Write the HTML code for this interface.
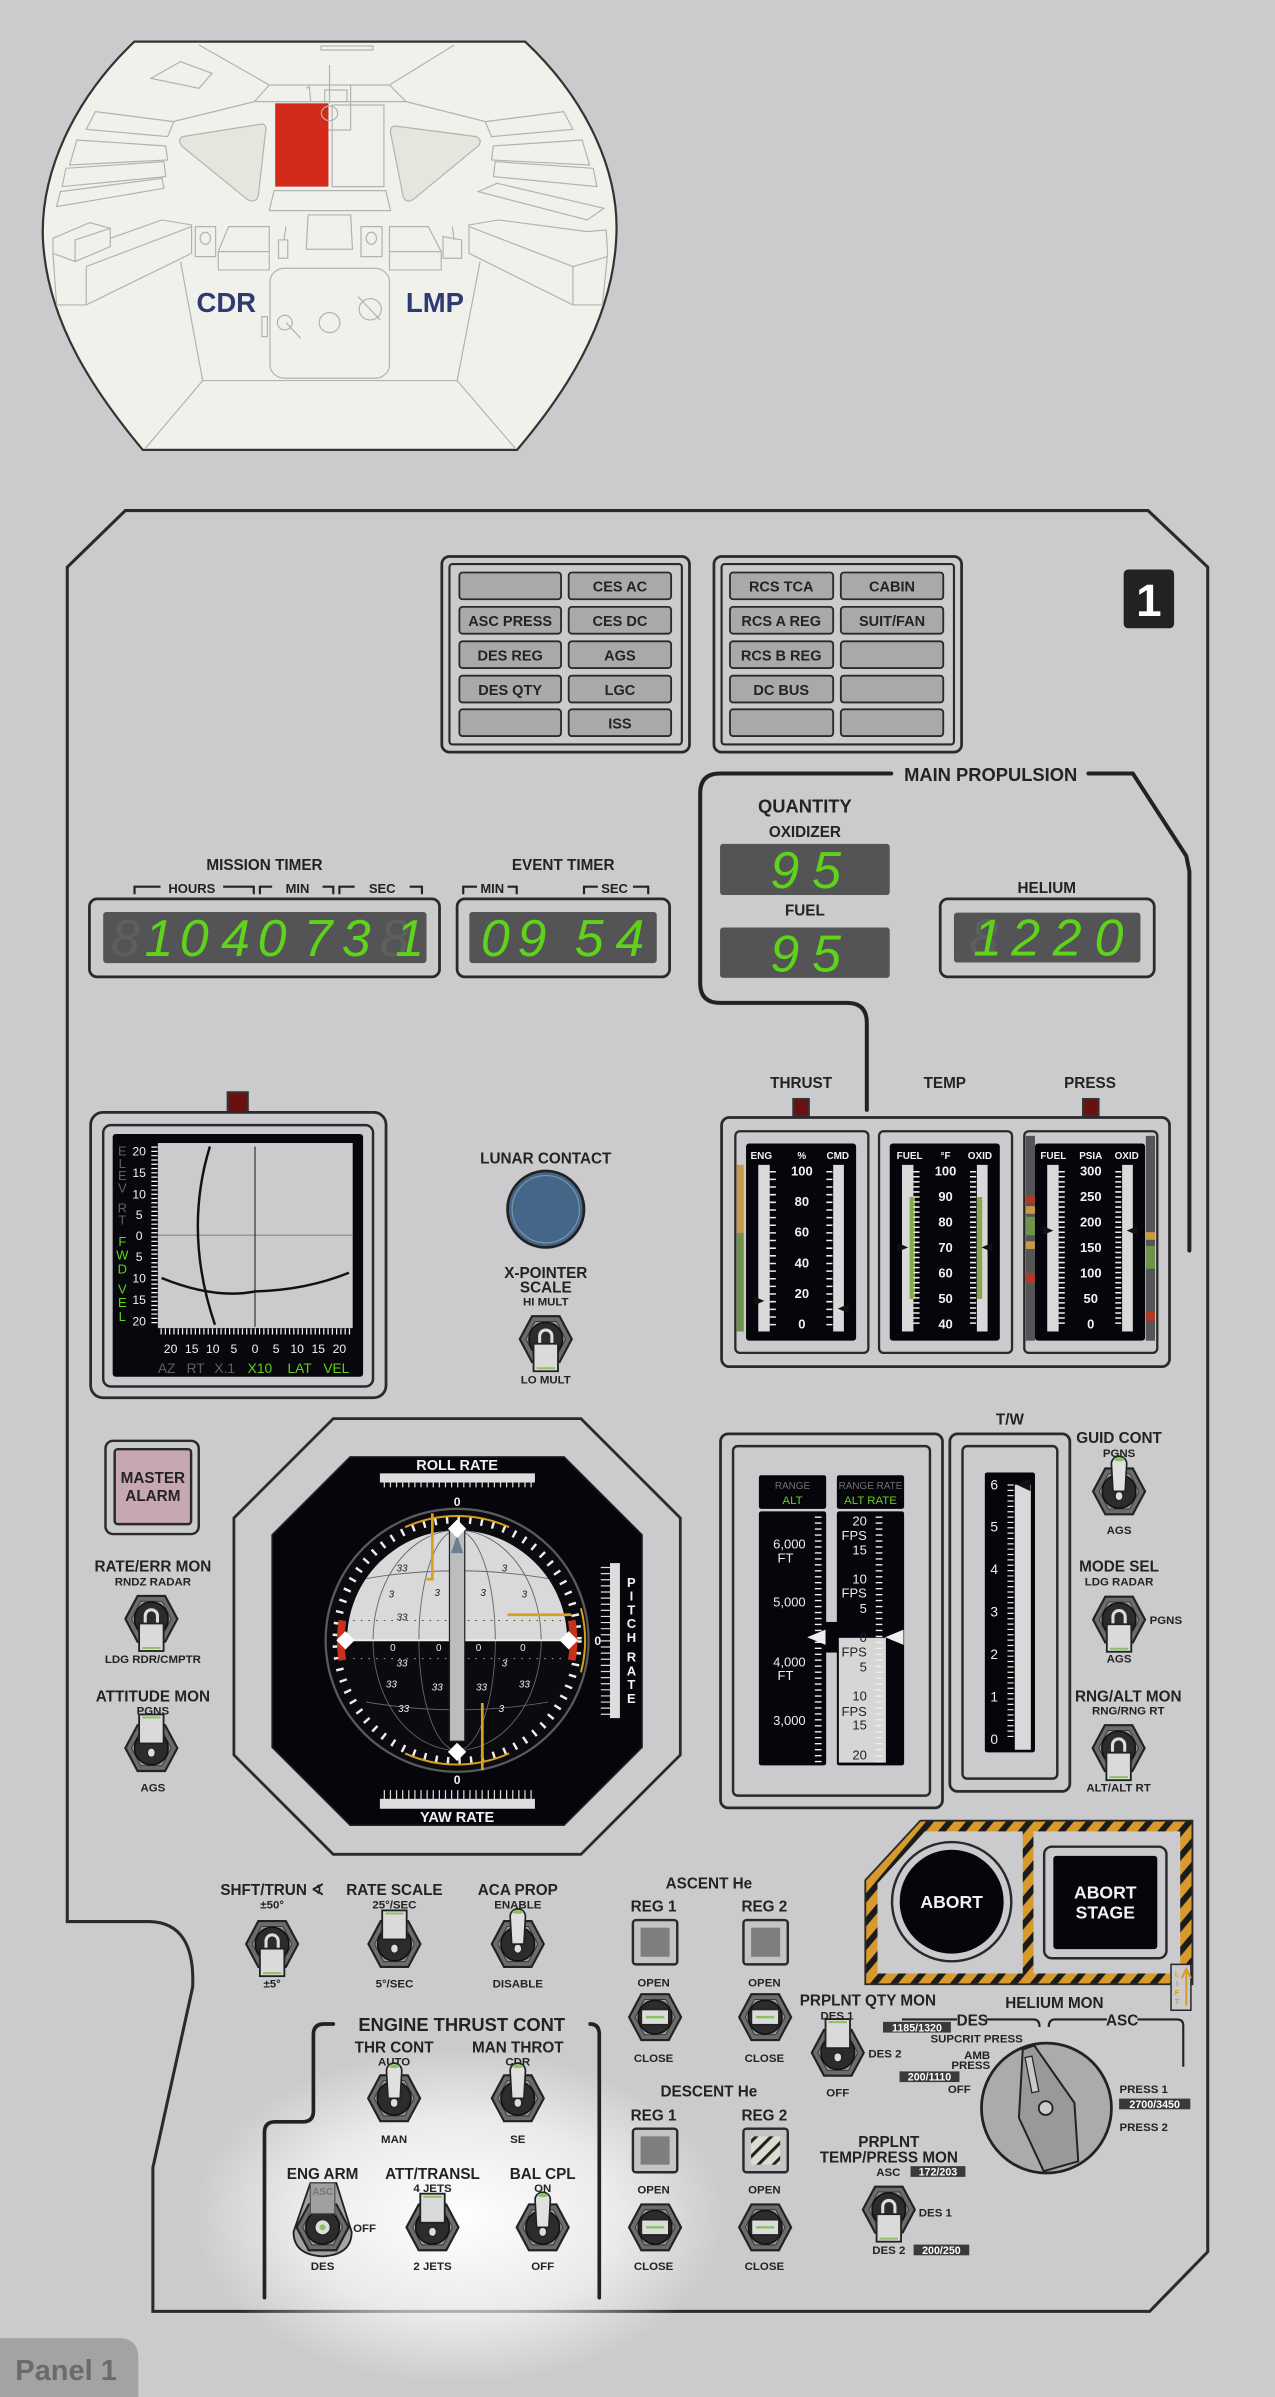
<!DOCTYPE html>
<html><head><meta charset="utf-8"><style>
html,body{margin:0;padding:0;background:#cbcbcd;}
svg{display:block}
text{font-family:"Liberation Sans",sans-serif;font-weight:bold;fill:#232325;text-anchor:middle}
.L{font-size:10px}
.S{font-size:7.5px}
.W{fill:#f2f2f2}
.B{font-size:9.5px}
.dg{font-weight:normal;font-style:italic;fill:#5fd21a;font-size:34px}
.dd{font-weight:normal;font-style:italic;fill:#5d615d;font-size:34px}
.bx{font-size:7px;fill:#fff}
</style></head><body>
<svg width="1275" height="2397" viewBox="0 0 834 1568" preserveAspectRatio="none" xmlns="http://www.w3.org/2000/svg">
<defs>
<radialGradient id="glow" cx="0.5" cy="0.5" r="0.5">
<stop offset="0" stop-color="#ffffff" stop-opacity="1"/>
<stop offset="0.6" stop-color="#ffffff" stop-opacity="0.6"/>
<stop offset="1" stop-color="#ffffff" stop-opacity="0"/>
</radialGradient>
<symbol id="nut" overflow="visible">
<polygon points="-17,0 -9,-15 9,-15 17,0 9,15 -9,15" fill="#6c6c6e" stroke="#222" stroke-width="1.4"/>
<polygon points="-13,0 -7,-11.5 7,-11.5 13,0 7,11.5 -7,11.5" fill="#9a9a9c" stroke="#333" stroke-width="0.6"/>
<circle r="11" fill="#2c2c2e" stroke="#111" stroke-width="1"/>
</symbol>
<symbol id="ball" overflow="visible">
<rect x="-2.5" y="0" width="5" height="6" rx="2.5" fill="#ddd" stroke="#222" stroke-width="0.8"/>
<path d="M-4,0 L-5,-18 A5,5 0 0 1 5,-18 L4,0 Z" fill="#e0e0e0" stroke="#222" stroke-width="1.1"/>
<ellipse cx="0" cy="-21" rx="3.5" ry="1.3" fill="#8cc063"/>
</symbol>
<symbol id="pup" overflow="visible">
<rect x="-2.5" y="0" width="5" height="6" rx="2.5" fill="#ddd" stroke="#222" stroke-width="0.8"/>
<rect x="-8" y="-22" width="16" height="19" fill="#dadada" stroke="#222" stroke-width="1.2"/>
<line x1="-6" y1="-20" x2="6" y2="-20" stroke="#8cc063" stroke-width="1.3"/>
</symbol>
<symbol id="pdn" overflow="visible">
<path d="M-4,4 V-2 A4,4 0 0 1 4,-2 V4" fill="#2c2c2e" stroke="#ddd" stroke-width="2"/>
<rect x="-8" y="3" width="16" height="18" fill="#dadada" stroke="#222" stroke-width="1.2"/>
<line x1="-6" y1="19" x2="6" y2="19" stroke="#8cc063" stroke-width="1.3"/>
</symbol>
<symbol id="hz" overflow="visible">
<rect x="-9" y="-5" width="18" height="10" fill="#dcdcdc" stroke="#222" stroke-width="1.1"/>
<line x1="-6" y1="0" x2="6" y2="0" stroke="#8cc063" stroke-width="1.6"/>
</symbol>
<clipPath id="ballclip"><circle cx="299" cy="1073" r="72"/></clipPath>
<pattern id="haz" width="10" height="10" patternUnits="userSpaceOnUse" patternTransform="rotate(40)">
<rect width="10" height="10" fill="#d89a2c"/><rect width="4" height="10" fill="#1b1b1b"/>
</pattern>
<pattern id="haz2" width="7" height="7" patternUnits="userSpaceOnUse" patternTransform="rotate(45)">
<rect width="7" height="7" fill="#dcdccf"/><rect width="2" height="7" fill="#222"/>
</pattern>
</defs>

<rect width="834" height="1568" fill="#cbcbcd"/>

<!-- cockpit -->
<g transform="translate(26.16,26.16) scale(0.2419,0.218)">
<path d="M255,5 H1312 C1480,180 1570,400 1558,600 C1545,850 1420,1060 1290,1230 H278 C150,1060 20,850 8,600 C0,400 90,180 255,5 Z" fill="#f1f1ec" stroke="#333" stroke-width="2.2" vector-effect="non-scaling-stroke"/>
<g fill="none" stroke="#b2b2b2" stroke-width="1.2" vector-effect="non-scaling-stroke">
<path vector-effect="non-scaling-stroke" d="M430,15 L620,135 H945 L1120,15 M620,135 L580,185 H990 L945,135 M580,185 L360,245 M990,185 L1205,245"/>
<path vector-effect="non-scaling-stroke" d="M440,1022 H1128 M440,1022 L285,1225 M1128,1022 L1285,1225 M380,665 L440,1022 M1190,665 L1128,1022"/>
<rect vector-effect="non-scaling-stroke" x="760" y="18" width="140" height="12"/>
<path vector-effect="non-scaling-stroke" d="M300,115 L380,65 L465,100 L430,145 Z"/>
<path vector-effect="non-scaling-stroke" d="M150,215 L362,245 L345,290 L125,268 Z M100,300 L340,318 L345,360 L80,375 Z M70,385 L335,365 L340,410 L60,440 Z M55,455 L330,415 L335,445 L45,500 Z"/>
<path vector-effect="non-scaling-stroke" d="M1416,215 L1204,245 L1221,290 L1441,268 Z M1466,300 L1226,318 L1221,360 L1486,375 Z M1496,385 L1231,365 L1226,410 L1506,440 Z M1185,455 L1236,430 L1525,505 L1480,540 Z"/>
<path vector-effect="non-scaling-stroke" d="M35,595 L135,548 L190,565 V620 L95,665 L35,640 Z M95,665 V600 L190,565 M190,595 L330,540 L410,555 V640 L125,795 H45 L35,640 M125,680 V795 M125,680 L410,560"/>
<path vector-effect="non-scaling-stroke" d="M1531,570 L1480,575 L1240,540 L1160,555 V640 L1441,795 H1521 L1535,640 Z M1441,680 V795 M1441,680 L1160,560 M1441,680 L1535,650"/>
<rect vector-effect="non-scaling-stroke" x="420" y="560" width="55" height="90"/>
<rect vector-effect="non-scaling-stroke" x="868" y="560" width="57" height="90"/>
<path vector-effect="non-scaling-stroke" d="M510,560 H620 V690 H482 V635 Z M482,635 H620 M945,560 H1050 L1085,635 V690 H945 Z M945,635 H1085"/>
<path vector-effect="non-scaling-stroke" d="M725,525 H840 L845,628 H720 Z M633,452 H935 L948,512 H620 Z"/>
<rect vector-effect="non-scaling-stroke" x="622" y="685" width="323" height="330" rx="40"/>
<path vector-effect="non-scaling-stroke" d="M645,600 V655 H670 V600 Z M665,560 L660,600 M1090,590 V655 H1140 V600 Z M1115,560 L1120,600"/>
<path vector-effect="non-scaling-stroke" d="M783,75 V190 M730,190 V270 H840 V135 M700,220 H730 V255 H700 Z M770,150 H830 V185 H770 Z M720,145 L728,140 L732,185"/>
<rect vector-effect="non-scaling-stroke" x="600" y="830" width="15" height="60"/>
<path vector-effect="non-scaling-stroke" d="M665,848 L705,895 M860,770 L920,840"/>
</g>
<path d="M385,290 L600,252 Q615,255 610,275 L590,470 Q580,492 560,478 L385,320 Q370,300 385,290 Z" fill="#e6e6df" stroke="#b2b2b2" stroke-width="1.2" vector-effect="non-scaling-stroke"/>
<path d="M960,258 L1180,290 Q1198,300 1185,318 L1010,478 Q990,492 982,470 L948,278 Q946,260 960,258 Z" fill="#e6e6df" stroke="#b2b2b2" stroke-width="1.2" vector-effect="non-scaling-stroke"/>
<rect x="636" y="190" width="144" height="250" fill="#d42a1a"/>
<rect x="790" y="195" width="140" height="245" fill="none" stroke="#b2b2b2" stroke-width="1.2" vector-effect="non-scaling-stroke"/>
<g fill="none" stroke="#b2b2b2" stroke-width="1.2">
<ellipse vector-effect="non-scaling-stroke" cx="783" cy="220" rx="22" ry="22"/>
<ellipse vector-effect="non-scaling-stroke" cx="783" cy="848" rx="28" ry="30"/>
<ellipse vector-effect="non-scaling-stroke" cx="893" cy="808" rx="30" ry="32"/>
<ellipse vector-effect="non-scaling-stroke" cx="662" cy="848" rx="20" ry="22"/>
<ellipse vector-effect="non-scaling-stroke" cx="447" cy="595" rx="14" ry="18"/>
<ellipse vector-effect="non-scaling-stroke" cx="896" cy="595" rx="14" ry="18"/>
</g>
</g>
<text x="148" y="204" style="font-size:18px;fill:#2e3a72">CDR</text>
<text x="284.5" y="204" style="font-size:18px;fill:#2e3a72">LMP</text>

<!-- panel outline -->
<path d="M82,334 H751 L790,371 V1473 L752,1512 H100 V1418 L126,1300 Q128,1258 98,1257 H44 V371 Z" fill="#cbcbcd" stroke="#2a2a2c" stroke-width="2"/>
<ellipse cx="300" cy="1450" rx="175" ry="110" fill="url(#glow)"/>

<!-- panel number -->
<rect x="735" y="372.5" width="33" height="38.5" rx="3" fill="#222"/>
<text x="751.5" y="403" style="font-size:30px;fill:#fff">1</text>

<!-- caution/warning lights -->
<g fill="none" stroke="#2a2a2c">
<rect x="289" y="364" width="162" height="128" rx="5" stroke-width="1.8"/>
<rect x="294" y="369" width="152" height="118" rx="2" stroke-width="1.4"/>
<rect x="467" y="364" width="162" height="128" rx="5" stroke-width="1.8"/>
<rect x="472" y="369" width="152" height="118" rx="2" stroke-width="1.4"/>
</g>
<g fill="#a9a9ab" stroke="#2a2a2c" stroke-width="1.2">
<rect x="300.5" y="374.5" width="66.5" height="17.5" rx="2"/><rect x="372" y="374.5" width="67" height="17.5" rx="2"/>
<rect x="300.5" y="397" width="66.5" height="17.5" rx="2"/><rect x="372" y="397" width="67" height="17.5" rx="2"/>
<rect x="300.5" y="419.5" width="66.5" height="17.5" rx="2"/><rect x="372" y="419.5" width="67" height="17.5" rx="2"/>
<rect x="300.5" y="442" width="66.5" height="17.5" rx="2"/><rect x="372" y="442" width="67" height="17.5" rx="2"/>
<rect x="300.5" y="464" width="66.5" height="17.5" rx="2"/><rect x="372" y="464" width="67" height="17.5" rx="2"/>
<rect x="477.5" y="374.5" width="67.5" height="17.5" rx="2"/><rect x="550" y="374.5" width="67" height="17.5" rx="2"/>
<rect x="477.5" y="397" width="67.5" height="17.5" rx="2"/><rect x="550" y="397" width="67" height="17.5" rx="2"/>
<rect x="477.5" y="419.5" width="67.5" height="17.5" rx="2"/><rect x="550" y="419.5" width="67" height="17.5" rx="2"/>
<rect x="477.5" y="442" width="67.5" height="17.5" rx="2"/><rect x="550" y="442" width="67" height="17.5" rx="2"/>
<rect x="477.5" y="464" width="67.5" height="17.5" rx="2"/><rect x="550" y="464" width="67" height="17.5" rx="2"/>
</g>
<g class="B">
<text class="B" x="405.5" y="387">CES AC</text>
<text class="B" x="333.7" y="409.5">ASC PRESS</text><text class="B" x="405.5" y="409.5">CES DC</text>
<text class="B" x="333.7" y="432">DES REG</text><text class="B" x="405.5" y="432">AGS</text>
<text class="B" x="333.7" y="454.5">DES QTY</text><text class="B" x="405.5" y="454.5">LGC</text>
<text class="B" x="405.5" y="476.5">ISS</text>
<text class="B" x="511" y="387">RCS TCA</text><text class="B" x="583.5" y="387">CABIN</text>
<text class="B" x="511" y="409.5">RCS A REG</text><text class="B" x="583.5" y="409.5">SUIT/FAN</text>
<text class="B" x="511" y="432">RCS B REG</text>
<text class="B" x="511" y="454.5">DC BUS</text>
</g>

<!-- main propulsion -->
<path d="M583,506 H471 Q458,506 458,519 V643 Q458,656 471,656 H554 Q567,656 567,669 V726" fill="none" stroke="#222" stroke-width="2.6" stroke-linecap="round"/>
<path d="M712,506 H741 L776,560 L778,570 V818" fill="none" stroke="#222" stroke-width="2.6" stroke-linecap="round"/>
<text x="648" y="511" style="font-size:12px">MAIN PROPULSION</text>
<text x="526.5" y="531.5" style="font-size:12px">QUANTITY</text>
<text x="526.5" y="547.5" class="L">OXIDIZER</text>
<rect x="471" y="552" width="111" height="33.5" rx="2" fill="#545457"/>
<text x="526.5" y="599" class="L">FUEL</text>
<rect x="471" y="606.7" width="111" height="33" rx="2" fill="#545457"/>
<text class="dg" x="513.4" y="581">9</text><text class="dg" x="540.7" y="581">5</text>
<text class="dg" x="513.4" y="635.5">9</text><text class="dg" x="540.7" y="635.5">5</text>

<!-- timers -->
<text x="173" y="569" class="L">MISSION TIMER</text>
<path d="M88,585 V580 H105 M146,580 H166 V585 M170,585 V580 H178 M211,580 H218 V585 M222,585 V580 H232 M268,580 H276 V585 M303,585 V580 H312 M332,580 H338 V585 M382,585 V580 H391 M414,580 H424 V585" fill="none" stroke="#222" stroke-width="1.4"/>
<text x="125.5" y="584" class="S" style="font-size:8.5px">HOURS</text>
<text x="194.6" y="584" class="S" style="font-size:8.5px">MIN</text>
<text x="250" y="584" class="S" style="font-size:8.5px">SEC</text>
<text x="368.4" y="569" class="L">EVENT TIMER</text>
<text x="322" y="584" class="S" style="font-size:8.5px">MIN</text>
<text x="402" y="584" class="S" style="font-size:8.5px">SEC</text>
<text x="684.7" y="584" class="L">HELIUM</text>
<g fill="none" stroke="#2a2a2c" stroke-width="1.8">
<rect x="58.5" y="588" width="229" height="51" rx="5"/>
<rect x="299" y="588" width="139" height="51" rx="5"/>
<rect x="615" y="588" width="140" height="51" rx="5"/>
</g>
<rect x="67.5" y="596.6" width="211.5" height="33.4" rx="2" fill="#545457"/>
<rect x="307" y="596.6" width="122.6" height="33.4" rx="2" fill="#545457"/>
<rect x="624" y="597" width="122" height="32.6" rx="2" fill="#545457"/>
<text class="dd" x="82" y="625.5">8</text>
<text class="dg" x="104" y="625.5">1</text>
<text class="dg" x="127" y="625.5">0</text>
<text class="dg" x="154" y="625.5">4</text>
<text class="dg" x="178" y="625.5">0</text>
<text class="dg" x="208" y="625.5">7</text>
<text class="dg" x="233" y="625.5">3</text>
<text class="dd" x="258" y="625.5">8</text>
<text class="dg" x="268" y="625.5">1</text>
<text class="dg" x="324" y="625.5">0</text>
<text class="dg" x="348" y="625.5">9</text>
<text class="dg" x="385.4" y="625.5">5</text>
<text class="dg" x="412" y="625.5">4</text>
<text class="dd" x="643.6" y="625">8</text><text class="dg" x="646" y="625">1</text>
<text class="dg" x="670.9" y="625">2</text>
<text class="dg" x="698.1" y="625">2</text>
<text class="dg" x="725.4" y="625">0</text>

<!-- x-y display -->
<rect x="149" y="714.6" width="13" height="13.2" fill="#6b0f0f" stroke="#333" stroke-width="1.5"/>
<rect x="59.3" y="727.7" width="193.2" height="186.6" rx="8" fill="#cbcbcd" stroke="#2a2a2c" stroke-width="1.8"/>
<rect x="67.5" y="736" width="176.5" height="171" rx="5" fill="none" stroke="#2a2a2c" stroke-width="1.6"/>
<rect x="73.7" y="741.8" width="163.8" height="158.8" rx="2" fill="#07070d"/>
<rect x="103.3" y="747.7" width="127.4" height="121.1" fill="#cbcbcd"/>
<line x1="103.3" y1="808" x2="230.7" y2="808" stroke="#888" stroke-width="0.7"/>
<line x1="166.8" y1="750" x2="166.8" y2="868" stroke="#222" stroke-width="0.7"/>
<path d="M137.3,750 Q120,806 140.6,866.6" fill="none" stroke="#111" stroke-width="1.6"/>
<path d="M105.7,836 Q140,850 166.8,844.8 Q200,844 228.3,832.6" fill="none" stroke="#111" stroke-width="1.6"/>
<line x1="101" y1="750" x2="101" y2="866" stroke="#fff" stroke-width="4" stroke-dasharray="0.8 2"/>
<line x1="105" y1="871" x2="229" y2="871" stroke="#fff" stroke-width="4" stroke-dasharray="0.8 2"/>
<g>
<text class="W" x="91" y="756" style="font-size:8px;font-weight:normal">20</text>
<text class="W" x="91" y="770" style="font-size:8px;font-weight:normal">15</text>
<text class="W" x="91" y="784" style="font-size:8px;font-weight:normal">10</text>
<text class="W" x="91" y="797.5" style="font-size:8px;font-weight:normal">5</text>
<text class="W" x="91" y="811" style="font-size:8px;font-weight:normal">0</text>
<text class="W" x="91" y="825" style="font-size:8px;font-weight:normal">5</text>
<text class="W" x="91" y="839" style="font-size:8px;font-weight:normal">10</text>
<text class="W" x="91" y="853" style="font-size:8px;font-weight:normal">15</text>
<text class="W" x="91" y="867" style="font-size:8px;font-weight:normal">20</text>
<text class="W" x="111.6" y="885" style="font-size:8px;font-weight:normal">20</text>
<text class="W" x="125.4" y="885" style="font-size:8px;font-weight:normal">15</text>
<text class="W" x="139.2" y="885" style="font-size:8px;font-weight:normal">10</text>
<text class="W" x="153" y="885" style="font-size:8px;font-weight:normal">5</text>
<text class="W" x="166.8" y="885" style="font-size:8px;font-weight:normal">0</text>
<text class="W" x="180.6" y="885" style="font-size:8px;font-weight:normal">5</text>
<text class="W" x="194.4" y="885" style="font-size:8px;font-weight:normal">10</text>
<text class="W" x="208.2" y="885" style="font-size:8px;font-weight:normal">15</text>
<text class="W" x="222" y="885" style="font-size:8px;font-weight:normal">20</text>
</g>
<g>
<text x="80" y="756" style="font-size:8.5px;font-weight:normal;fill:#5e625e">E</text>
<text x="80" y="764" style="font-size:8.5px;font-weight:normal;fill:#5e625e">L</text>
<text x="80" y="772" style="font-size:8.5px;font-weight:normal;fill:#5e625e">E</text>
<text x="80" y="780" style="font-size:8.5px;font-weight:normal;fill:#5e625e">V</text>
<text x="80" y="793" style="font-size:8.5px;font-weight:normal;fill:#5e625e">R</text>
<text x="80" y="801" style="font-size:8.5px;font-weight:normal;fill:#5e625e">T</text>
<text x="80" y="815" style="font-size:8.5px;font-weight:normal;fill:#5fd21a">F</text>
<text x="80" y="824" style="font-size:8.5px;font-weight:normal;fill:#5fd21a">W</text>
<text x="80" y="833" style="font-size:8.5px;font-weight:normal;fill:#5fd21a">D</text>
<text x="80" y="846" style="font-size:8.5px;font-weight:normal;fill:#5fd21a">V</text>
<text x="80" y="855" style="font-size:8.5px;font-weight:normal;fill:#5fd21a">E</text>
<text x="80" y="864" style="font-size:8.5px;font-weight:normal;fill:#5fd21a">L</text>
<text x="109" y="898" style="font-size:9px;font-weight:normal;fill:#5e625e">AZ</text>
<text x="128" y="898" style="font-size:9px;font-weight:normal;fill:#5e625e">RT</text>
<text x="147" y="898" style="font-size:9px;font-weight:normal;fill:#5e625e">X.1</text>
<text x="170" y="898" style="font-size:9px;font-weight:normal;fill:#5fd21a">X10</text>
<text x="196" y="898" style="font-size:9px;font-weight:normal;fill:#5fd21a">LAT</text>
<text x="220" y="898" style="font-size:9px;font-weight:normal;fill:#5fd21a">VEL</text>
</g>

<!-- lunar contact / x-pointer -->
<text x="357" y="761" class="L">LUNAR CONTACT</text>
<circle cx="357" cy="791" r="25" fill="#436689" stroke="#222" stroke-width="1.8"/>
<circle cx="357" cy="791" r="22" fill="none" stroke="#7d93a8" stroke-width="0.8"/>
<text x="357" y="836" class="L">X-POINTER</text>
<text x="357" y="845.5" class="L">SCALE</text>
<text x="357" y="854" class="S">HI MULT</text>
<use href="#nut" x="357" y="876"/><use href="#pdn" x="357" y="876"/>
<text x="357" y="905" class="S">LO MULT</text>

<!-- master alarm -->
<rect x="69" y="942.5" width="61" height="61" rx="5" fill="none" stroke="#2a2a2c" stroke-width="1.6"/>
<rect x="75" y="948" width="50" height="49" rx="2" fill="#c7a8b2" stroke="#2a2a2c" stroke-width="1.6"/>
<text x="100" y="970" class="L">MASTER</text>
<text x="100" y="982" class="L">ALARM</text>

<!-- left toggles -->
<text x="100" y="1028" class="L">RATE/ERR MON</text>
<text x="100" y="1037" class="S">RNDZ RADAR</text>
<use href="#nut" x="99" y="1059"/><use href="#pdn" x="99" y="1059"/>
<text x="100" y="1088" class="S">LDG RDR/CMPTR</text>
<text x="100" y="1113" class="L">ATTITUDE MON</text>
<text x="100" y="1121.5" class="S">PGNS</text>
<use href="#nut" x="99" y="1143.5"/><use href="#pup" x="99" y="1143.5"/>
<text x="100" y="1172" class="S">AGS</text>

<!-- FDAI -->
<polygon points="218,928 380,928 445,993 445,1148 380,1213 218,1213 153,1148 153,993" fill="#cbcbcd" stroke="#2a2a2c" stroke-width="1.8"/>
<polygon points="229,953 369,953 420,1004 420,1143 369,1194 229,1194 178,1143 178,1004" fill="#05050b" stroke="#222" stroke-width="1"/>
<rect x="248.5" y="963.8" width="101.4" height="6" fill="#ddd"/>
<line x1="251" y1="970" x2="348" y2="970" stroke="#ddd" stroke-width="6" stroke-dasharray="0.8 3.2"/>
<text x="299" y="961.5" class="W" style="font-size:9.5px">ROLL RATE</text>
<text x="299" y="985" class="W" style="font-size:8px">0</text>
<rect x="248.5" y="1176.7" width="101.4" height="6.5" fill="#ddd"/>
<line x1="251" y1="1174" x2="348" y2="1174" stroke="#ddd" stroke-width="6" stroke-dasharray="0.8 3.2"/>
<text x="299" y="1192" class="W" style="font-size:9.5px">YAW RATE</text>
<text x="299" y="1167" class="W" style="font-size:8px">0</text>
<rect x="399" y="1022.5" width="6.5" height="101.4" fill="#ddd"/>
<line x1="396" y1="1025" x2="396" y2="1122" stroke="#ddd" stroke-width="6" stroke-dasharray="0.8 3.2"/>
<text x="391" y="1076" class="W" style="font-size:8px">0</text>
<g>
<text class="W" x="413" y="1038" style="font-size:8.5px">P</text>
<text class="W" x="413" y="1047" style="font-size:8.5px">I</text>
<text class="W" x="413" y="1056" style="font-size:8.5px">T</text>
<text class="W" x="413" y="1065" style="font-size:8.5px">C</text>
<text class="W" x="413" y="1074" style="font-size:8.5px">H</text>
<text class="W" x="413" y="1087" style="font-size:8.5px">R</text>
<text class="W" x="413" y="1096" style="font-size:8.5px">A</text>
<text class="W" x="413" y="1105" style="font-size:8.5px">T</text>
<text class="W" x="413" y="1114" style="font-size:8.5px">E</text>
</g>
<circle cx="299" cy="1073" r="86" fill="#0a0a0f" stroke="#5a5a5a" stroke-width="1.5"/>
<circle cx="299" cy="1073" r="79" fill="none" stroke="#eee" stroke-width="5" stroke-dasharray="1.6 6"/>
<path d="M227,1073 A72,72 0 0 1 371,1073 Z" fill="#d9d9d9"/>
<g clip-path="url(#ballclip)" fill="none" stroke="#666" stroke-width="0.6">
<ellipse cx="299" cy="1073" rx="25" ry="72"/>
<ellipse cx="299" cy="1073" rx="55" ry="72"/>
<path d="M227,1035 Q299,1020 371,1035 M227,1111 Q299,1126 371,1111"/>
<line x1="231" y1="1060" x2="367" y2="1060" stroke-dasharray="1 4" stroke="#333"/>
<line x1="231" y1="1085" x2="367" y2="1085" stroke-dasharray="1 4" stroke="#aaa"/>
</g>
<g>
<text x="256" y="1045" style="font-size:6.5px;fill:#222;font-style:italic;font-weight:normal">3</text>
<text x="286" y="1044" style="font-size:6.5px;fill:#222;font-style:italic;font-weight:normal">3</text>
<text x="316" y="1044" style="font-size:6.5px;fill:#222;font-style:italic;font-weight:normal">3</text>
<text x="343" y="1045" style="font-size:6.5px;fill:#222;font-style:italic;font-weight:normal">3</text>
<text x="263" y="1028" style="font-size:6.5px;fill:#222;font-style:italic;font-weight:normal">33</text>
<text x="330" y="1028" style="font-size:6.5px;fill:#222;font-style:italic;font-weight:normal">3</text>
<text x="263" y="1060" style="font-size:6.5px;fill:#222;font-style:italic;font-weight:normal">33</text>
<text x="263" y="1090" style="font-size:6.5px;fill:#eee;font-style:italic;font-weight:normal">33</text>
<text x="330" y="1090" style="font-size:6.5px;fill:#eee;font-style:italic;font-weight:normal">3</text>
<text x="256" y="1104" style="font-size:6.5px;fill:#eee;font-style:italic;font-weight:normal">33</text>
<text x="286" y="1106" style="font-size:6.5px;fill:#eee;font-style:italic;font-weight:normal">33</text>
<text x="315" y="1106" style="font-size:6.5px;fill:#eee;font-style:italic;font-weight:normal">33</text>
<text x="343" y="1104" style="font-size:6.5px;fill:#eee;font-style:italic;font-weight:normal">33</text>
<text x="264" y="1120" style="font-size:6.5px;fill:#eee;font-style:italic;font-weight:normal">33</text>
<text x="328" y="1120" style="font-size:6.5px;fill:#eee;font-style:italic;font-weight:normal">3</text>
<text x="257" y="1080" style="font-size:6.5px;fill:#eee;font-weight:normal">0</text>
<text x="287" y="1080" style="font-size:6.5px;fill:#eee;font-weight:normal">0</text>
<text x="313" y="1080" style="font-size:6.5px;fill:#eee;font-weight:normal">0</text>
<text x="342" y="1080" style="font-size:6.5px;fill:#eee;font-weight:normal">0</text>
</g>
<line x1="227" y1="1073" x2="371" y2="1073" stroke="#eee" stroke-width="1.2"/>
<path d="M224,1060 A76,76 0 0 0 224,1086 M374,1060 A76,76 0 0 1 374,1086" fill="none" stroke="#c8321a" stroke-width="5"/>
<path d="M265,999 A83,83 0 0 1 333,999 M265,1147 A83,83 0 0 0 333,1147 M380,1052 A83,83 0 0 1 380,1094" fill="none" stroke="#d8a020" stroke-width="1.3"/>
<path d="M282.8,990 V1033 H279 M331.9,1056.3 H373.7 M315.5,1114 V1158" fill="none" stroke="#d8a020" stroke-width="1.8"/>
<rect x="294" y="1001" width="10" height="138" fill="#bdbdbd" stroke="#222" stroke-width="0.8"/>
<polygon points="299,1004 295,1016 303,1016" fill="#6a8092"/>
<polygon points="299,994 305,1000 299,1006 293,1000" fill="#fff"/>
<polygon points="299,1140 305,1146 299,1152 293,1146" fill="#fff"/>
<polygon points="220,1073 226,1067 232,1073 226,1079" fill="#fff"/>
<polygon points="366,1073 372,1067 378,1073 372,1079" fill="#fff"/>

<!-- thrust/temp/press -->
<rect x="519" y="719" width="10" height="11" fill="#6b0f0f" stroke="#333" stroke-width="1.5"/>
<rect x="708.5" y="719" width="10" height="11" fill="#6b0f0f" stroke="#333" stroke-width="1.5"/>
<text x="524" y="711.6" class="L">THRUST</text>
<text x="618" y="711.6" class="L">TEMP</text>
<text x="713" y="711.6" class="L">PRESS</text>
<rect x="472" y="731" width="293" height="163" rx="5" fill="none" stroke="#2a2a2c" stroke-width="1.8"/>

<g transform="translate(481,740)">
<rect x="0" y="0" width="87" height="145" rx="3" fill="none" stroke="#2a2a2c" stroke-width="1.5"/>
<rect x="1" y="22" width="4.5" height="44.5" fill="#c99a45"/><rect x="1" y="66.5" width="4.5" height="64.5" fill="#6f934a"/>
<rect x="7" y="8" width="72" height="129" rx="2" fill="#05050b"/>
<text x="17" y="18" class="W" style="font-size:6.5px">ENG</text><text x="43.5" y="18" class="W" style="font-size:6.5px">%</text><text x="67" y="18" class="W" style="font-size:6.5px">CMD</text>
<rect x="15" y="22" width="7.5" height="109" fill="#d9d9d9"/><rect x="64" y="22" width="7" height="109" fill="#d9d9d9"/>
<line x1="24.5" y1="26" x2="24.5" y2="127" stroke="#eee" stroke-width="4" stroke-dasharray="1 4"/>
<line x1="61.5" y1="26" x2="61.5" y2="127" stroke="#eee" stroke-width="4" stroke-dasharray="1 4"/>
<text class="W" x="43.5" y="29" style="font-size:8.5px">100</text><text class="W" x="43.5" y="49" style="font-size:8.5px">80</text><text class="W" x="43.5" y="69" style="font-size:8.5px">60</text><text class="W" x="43.5" y="89" style="font-size:8.5px">40</text><text class="W" x="43.5" y="109" style="font-size:8.5px">20</text><text class="W" x="43.5" y="129" style="font-size:8.5px">0</text>
<polygon points="12,108 19,111 12,114" fill="#111"/><polygon points="74,113 67,116 74,119" fill="#111"/>
</g>

<g transform="translate(575,740)">
<rect x="0" y="0" width="87" height="145" rx="3" fill="none" stroke="#2a2a2c" stroke-width="1.5"/>
<rect x="7" y="8" width="72" height="129" rx="2" fill="#05050b"/>
<text x="20" y="18" class="W" style="font-size:6.5px">FUEL</text><text x="43.5" y="18" class="W" style="font-size:6.5px">°F</text><text x="66" y="18" class="W" style="font-size:6.5px">OXID</text>
<rect x="15" y="22" width="7.5" height="109" fill="#d9d9d9"/><rect x="64" y="22" width="7" height="109" fill="#d9d9d9"/>
<rect x="20" y="43" width="3.5" height="66.7" fill="#86a84e"/><rect x="64" y="43" width="3.5" height="66.7" fill="#86a84e"/>
<line x1="24.5" y1="26" x2="24.5" y2="127" stroke="#eee" stroke-width="4" stroke-dasharray="1 2.3"/>
<line x1="61.5" y1="26" x2="61.5" y2="127" stroke="#eee" stroke-width="4" stroke-dasharray="1 2.3"/>
<text class="W" x="43.5" y="29" style="font-size:8.5px">100</text><text class="W" x="43.5" y="45.7" style="font-size:8.5px">90</text><text class="W" x="43.5" y="62.4" style="font-size:8.5px">80</text><text class="W" x="43.5" y="79" style="font-size:8.5px">70</text><text class="W" x="43.5" y="95.7" style="font-size:8.5px">60</text><text class="W" x="43.5" y="112.4" style="font-size:8.5px">50</text><text class="W" x="43.5" y="129" style="font-size:8.5px">40</text>
<polygon points="12,73 19,76 12,79" fill="#111"/><polygon points="74,73 67,76 74,79" fill="#111"/>
</g>

<g transform="translate(670,740)">
<rect x="0" y="0" width="87" height="145" rx="3" fill="none" stroke="#2a2a2c" stroke-width="1.5"/>
<rect x="1" y="3" width="6" height="134" fill="#555558"/><rect x="79.5" y="3" width="6" height="134" fill="#555558"/>
<rect x="1" y="42" width="6" height="5" fill="#b03a28"/><rect x="1" y="49" width="6" height="5" fill="#c99a45"/><rect x="1" y="56" width="6" height="12" fill="#6f934a"/><rect x="1" y="72" width="6" height="5" fill="#c99a45"/><rect x="1" y="93" width="6" height="6" fill="#b03a28"/>
<rect x="79.5" y="66" width="6" height="5" fill="#c99a45"/><rect x="79.5" y="75" width="6" height="15" fill="#6f934a"/><rect x="79.5" y="118" width="6" height="6" fill="#b03a28"/>
<rect x="7" y="8" width="72" height="129" rx="2" fill="#05050b"/>
<text x="19" y="18" class="W" style="font-size:6.5px">FUEL</text><text x="43.5" y="18" class="W" style="font-size:6.5px">PSIA</text><text x="67" y="18" class="W" style="font-size:6.5px">OXID</text>
<rect x="15" y="22" width="7.5" height="109" fill="#d9d9d9"/><rect x="64" y="22" width="7" height="109" fill="#d9d9d9"/>
<line x1="24.5" y1="26" x2="24.5" y2="127" stroke="#eee" stroke-width="4" stroke-dasharray="1 2.3"/>
<line x1="61.5" y1="26" x2="61.5" y2="127" stroke="#eee" stroke-width="4" stroke-dasharray="1 2.3"/>
<text class="W" x="43.5" y="29" style="font-size:8.5px">300</text><text class="W" x="43.5" y="45.7" style="font-size:8.5px">250</text><text class="W" x="43.5" y="62.4" style="font-size:8.5px">200</text><text class="W" x="43.5" y="79" style="font-size:8.5px">150</text><text class="W" x="43.5" y="95.7" style="font-size:8.5px">100</text><text class="W" x="43.5" y="112.4" style="font-size:8.5px">50</text><text class="W" x="43.5" y="129" style="font-size:8.5px">0</text>
<polygon points="12,62 19,65 12,68" fill="#111"/><polygon points="74,62 67,65 74,68" fill="#111"/>
</g>

<!-- range / alt -->
<rect x="471.3" y="938" width="145.2" height="244.6" rx="5" fill="none" stroke="#2a2a2c" stroke-width="1.8"/>
<rect x="479.5" y="946" width="128.8" height="228.6" rx="3" fill="none" stroke="#2a2a2c" stroke-width="1.6"/>
<rect x="496.4" y="965" width="44" height="22" rx="1.5" fill="#05050b"/>
<rect x="547.4" y="965" width="44" height="22" rx="1.5" fill="#05050b"/>
<text x="518.4" y="974" style="font-size:6.5px;font-weight:normal;fill:#6a766a">RANGE</text>
<text x="518.4" y="984" style="font-size:7.5px;font-weight:normal;fill:#5fd21a">ALT</text>
<text x="569.4" y="974" style="font-size:6.5px;font-weight:normal;fill:#6a766a">RANGE RATE</text>
<text x="569.4" y="984" style="font-size:7.5px;font-weight:normal;fill:#5fd21a">ALT RATE</text>
<rect x="496.4" y="988.7" width="44" height="166.1" rx="1.5" fill="#05050b"/>
<rect x="547.4" y="988.7" width="44" height="166.1" rx="1.5" fill="#05050b"/>
<rect x="540" y="1061" width="8" height="20" fill="#05050b"/>
<rect x="548.7" y="1071.4" width="30.8" height="81.6" fill="#d6d6d6"/>
<line x1="535.2" y1="992" x2="535.2" y2="1153" stroke="#eee" stroke-width="4.4" stroke-dasharray="0.9 3"/>
<line x1="575" y1="992" x2="575" y2="1153" stroke="#eee" stroke-width="4.4" stroke-dasharray="0.9 3"/>
<polygon points="528,1071 540,1066 540,1076" fill="#eee"/><polygon points="579,1071 591,1066 591,1076" fill="#eee"/>
<g>
<text x="527" y="1013" style="font-size:8.5px;font-weight:normal;fill:#eee;text-anchor:end">6,000</text>
<text x="519" y="1022" style="font-size:8.5px;font-weight:normal;fill:#eee;text-anchor:end">FT</text>
<text x="527" y="1051" style="font-size:8.5px;font-weight:normal;fill:#eee;text-anchor:end">5,000</text>
<text x="527" y="1090" style="font-size:8.5px;font-weight:normal;fill:#eee;text-anchor:end">4,000</text>
<text x="519" y="1099" style="font-size:8.5px;font-weight:normal;fill:#eee;text-anchor:end">FT</text>
<text x="527" y="1128.5" style="font-size:8.5px;font-weight:normal;fill:#eee;text-anchor:end">3,000</text>
<text x="567" y="998" style="font-size:8.5px;font-weight:normal;fill:#eee;text-anchor:end">20</text>
<text x="567" y="1007.5" style="font-size:8.5px;font-weight:normal;fill:#eee;text-anchor:end">FPS</text>
<text x="567" y="1017" style="font-size:8.5px;font-weight:normal;fill:#eee;text-anchor:end">15</text>
<text x="567" y="1036" style="font-size:8.5px;font-weight:normal;fill:#eee;text-anchor:end">10</text>
<text x="567" y="1045" style="font-size:8.5px;font-weight:normal;fill:#eee;text-anchor:end">FPS</text>
<text x="567" y="1055" style="font-size:8.5px;font-weight:normal;fill:#eee;text-anchor:end">5</text>
<text x="567" y="1074" style="font-size:8.5px;font-weight:normal;fill:#222;text-anchor:end">0</text>
<text x="567" y="1083.5" style="font-size:8.5px;font-weight:normal;fill:#222;text-anchor:end">FPS</text>
<text x="567" y="1093.5" style="font-size:8.5px;font-weight:normal;fill:#222;text-anchor:end">5</text>
<text x="567" y="1112.5" style="font-size:8.5px;font-weight:normal;fill:#222;text-anchor:end">10</text>
<text x="567" y="1122.5" style="font-size:8.5px;font-weight:normal;fill:#222;text-anchor:end">FPS</text>
<text x="567" y="1131.5" style="font-size:8.5px;font-weight:normal;fill:#222;text-anchor:end">15</text>
<text x="567" y="1151" style="font-size:8.5px;font-weight:normal;fill:#222;text-anchor:end">20</text>
</g>

<!-- T/W -->
<text x="660.6" y="932" class="L">T/W</text>
<rect x="621.3" y="938" width="78.5" height="233.8" rx="5" fill="none" stroke="#2a2a2c" stroke-width="1.8"/>
<rect x="629.6" y="946" width="62" height="217.5" rx="3" fill="none" stroke="#2a2a2c" stroke-width="1.6"/>
<rect x="644.2" y="963.2" width="32.8" height="183.1" rx="1.5" fill="#05050b"/>
<rect x="663.8" y="971.2" width="10.5" height="173.4" fill="#d9d9d9"/>
<line x1="661" y1="971" x2="661" y2="1139" stroke="#eee" stroke-width="4" stroke-dasharray="0.8 2.7"/>
<polygon points="665,971.2 674,967 674,975.4" fill="#111"/>
<g>
<text x="650.3" y="974.4" style="font-size:9px;font-weight:normal;fill:#eee">6</text>
<text x="650.3" y="1002" style="font-size:9px;font-weight:normal;fill:#eee">5</text>
<text x="650.3" y="1029.8" style="font-size:9px;font-weight:normal;fill:#eee">4</text>
<text x="650.3" y="1057.5" style="font-size:9px;font-weight:normal;fill:#eee">3</text>
<text x="650.3" y="1085.2" style="font-size:9px;font-weight:normal;fill:#eee">2</text>
<text x="650.3" y="1113" style="font-size:9px;font-weight:normal;fill:#eee">1</text>
<text x="650.3" y="1140.7" style="font-size:9px;font-weight:normal;fill:#eee">0</text>
</g>

<!-- right toggles -->
<text x="732" y="944" class="L">GUID CONT</text>
<text x="732" y="953" class="S">PGNS</text>
<use href="#nut" x="732" y="975.6"/><use href="#ball" x="732" y="975.6"/>
<text x="732" y="1003.5" class="S">AGS</text>
<text x="732" y="1028" class="L">MODE SEL</text>
<text x="732" y="1037" class="S">LDG RADAR</text>
<use href="#nut" x="732" y="1059.5"/><use href="#pdn" x="732" y="1059.5"/>
<text x="752" y="1062.5" class="S" style="text-anchor:start">PGNS</text>
<text x="732" y="1087.5" class="S">AGS</text>
<text x="738" y="1113" class="L">RNG/ALT MON</text>
<text x="738" y="1121.5" class="S">RNG/RNG RT</text>
<use href="#nut" x="731.7" y="1143.5"/><use href="#pdn" x="731.7" y="1143.5"/>
<text x="731.7" y="1172" class="S">ALT/ALT RT</text>

<!-- lower left toggles -->
<text x="178" y="1239.5" class="L">SHFT/TRUN ∢</text>
<text x="178" y="1248.5" class="S">±50°</text>
<use href="#nut" x="178" y="1271.7"/><use href="#pdn" x="178" y="1271.7"/>
<text x="178" y="1300" class="S">±5°</text>
<text x="258" y="1239.5" class="L">RATE SCALE</text>
<text x="258" y="1248.5" class="S">25°/SEC</text>
<use href="#nut" x="258" y="1271.7"/><use href="#pup" x="258" y="1271.7"/>
<text x="258" y="1300" class="S">5°/SEC</text>
<text x="338.7" y="1239.5" class="L">ACA PROP</text>
<text x="338.7" y="1248.5" class="S">ENABLE</text>
<use href="#nut" x="338.7" y="1271.7"/><use href="#ball" x="338.7" y="1271.7"/>
<text x="338.7" y="1300" class="S">DISABLE</text>

<!-- engine thrust cont -->
<path d="M173,1503 V1395 Q173,1388 180,1388 H198 Q205,1388 205,1381 V1331 Q205,1324 212,1324 H218 M386,1324 Q392,1324 392,1331 V1503" fill="none" stroke="#222" stroke-width="2.4" stroke-linecap="round"/>
<text x="302" y="1328.5" style="font-size:12px">ENGINE THRUST CONT</text>
<text x="257.8" y="1342.5" class="L">THR CONT</text>
<text x="257.8" y="1351" class="S">AUTO</text>
<use href="#nut" x="257.8" y="1372.6"/><use href="#ball" x="257.8" y="1372.6"/>
<text x="257.8" y="1402" class="S">MAN</text>
<text x="338.7" y="1342.5" class="L">MAN THROT</text>
<text x="338.7" y="1351" class="S">CDR</text>
<use href="#nut" x="338.7" y="1372.6"/><use href="#ball" x="338.7" y="1372.6"/>
<text x="338.7" y="1402" class="S">SE</text>
<text x="211" y="1425.5" class="L">ENG ARM</text>
<path d="M203,1428 L220,1428 L230,1460 Q230,1475 211,1476 Q192,1475 192,1460 Z" fill="#a3a3a5" stroke="#222" stroke-width="1.2"/>
<use href="#nut" x="211" y="1457"/>
<rect x="203" y="1428" width="16" height="20" fill="#a0a0a2" stroke="#555" stroke-width="0.8"/>
<text x="211" y="1436" style="font-size:6.5px;fill:#777">ASC</text>
<circle cx="211" cy="1457" r="5" fill="#ddd" stroke="#222" stroke-width="0.8"/>
<circle cx="211" cy="1457" r="2" fill="#8cc063"/>
<text x="231" y="1460" class="S" style="text-anchor:start">OFF</text>
<text x="211" y="1485" class="S">DES</text>
<text x="282.9" y="1425.5" class="L">ATT/TRANSL</text>
<text x="282.9" y="1434" class="S">4 JETS</text>
<use href="#nut" x="282.9" y="1457"/><use href="#pup" x="282.9" y="1457"/>
<text x="282.9" y="1485" class="S">2 JETS</text>
<text x="355" y="1425.5" class="L">BAL CPL</text>
<text x="355" y="1434" class="S">ON</text>
<use href="#nut" x="355" y="1457"/><use href="#ball" x="355" y="1457"/>
<text x="355" y="1485" class="S">OFF</text>

<!-- ascent / descent He -->
<text x="463.7" y="1235.5" class="L">ASCENT He</text>
<text x="427.5" y="1250.5" class="L">REG 1</text><text x="500" y="1250.5" class="L">REG 2</text>
<rect x="414" y="1256" width="29" height="29" rx="2" fill="#c4c4c6" stroke="#2a2a2c" stroke-width="1.6"/>
<rect x="419" y="1261" width="19" height="19" fill="#7e7e80"/>
<rect x="486.3" y="1256" width="29" height="29" rx="2" fill="#c4c4c6" stroke="#2a2a2c" stroke-width="1.6"/>
<rect x="491.3" y="1261" width="19" height="19" fill="#7e7e80"/>
<text x="427.5" y="1299.5" class="S">OPEN</text><text x="500" y="1299.5" class="S">OPEN</text>
<use href="#nut" x="428.5" y="1319.5"/><use href="#hz" x="428.5" y="1319.5"/>
<use href="#nut" x="500.5" y="1319.5"/><use href="#hz" x="500.5" y="1319.5"/>
<text x="427.5" y="1349" class="S">CLOSE</text><text x="500" y="1349" class="S">CLOSE</text>
<text x="463.7" y="1371.5" class="L">DESCENT He</text>
<text x="427.5" y="1387" class="L">REG 1</text><text x="500" y="1387" class="L">REG 2</text>
<rect x="414" y="1392.5" width="29" height="28.5" rx="2" fill="#c4c4c6" stroke="#2a2a2c" stroke-width="1.6"/>
<rect x="419" y="1397.5" width="19" height="18.5" fill="#7e7e80"/>
<rect x="486.3" y="1392.5" width="29" height="28.5" rx="2" fill="#c4c4c6" stroke="#2a2a2c" stroke-width="1.6"/>
<rect x="491.3" y="1397.5" width="19" height="18.5" fill="url(#haz2)"/>
<text x="427.5" y="1435" class="S">OPEN</text><text x="500" y="1435" class="S">OPEN</text>
<use href="#nut" x="428.5" y="1457"/><use href="#hz" x="428.5" y="1457"/>
<use href="#nut" x="500.5" y="1457"/><use href="#hz" x="500.5" y="1457"/>
<text x="427.5" y="1485" class="S">CLOSE</text><text x="500" y="1485" class="S">CLOSE</text>

<!-- abort -->
<path d="M566,1230 L602,1191 H780 V1298 H566 Z" fill="url(#haz)" stroke="#2a2a2c" stroke-width="1.2"/>
<path d="M574,1232 L605,1198 H669 V1291 H574 Z" fill="#cbcbcd"/>
<path d="M676,1198 H772 V1285 H766 V1291 H676 Z" fill="#cbcbcd"/>
<circle cx="622.5" cy="1244" r="39" fill="#cbcbcd" stroke="#2a2a2c" stroke-width="1.6"/>
<circle cx="622.5" cy="1244" r="34" fill="#05050b"/>
<text x="622.5" y="1248" class="W" style="font-size:11.5px">ABORT</text>
<rect x="683" y="1208" width="80" height="73" rx="5" fill="#cbcbcd" stroke="#2a2a2c" stroke-width="1.6"/>
<rect x="689" y="1214" width="68" height="61" rx="2" fill="#05050b"/>
<text x="723" y="1242" class="W" style="font-size:11.5px">ABORT</text>
<text x="723" y="1255" class="W" style="font-size:11.5px">STAGE</text>
<rect x="766" y="1285" width="13" height="30" fill="#cbcbcd" stroke="#2a2a2c" stroke-width="1"/>
<path d="M776,1312 V1290 M773,1294 L776,1288 L779,1294" fill="none" stroke="#d89a2c" stroke-width="1.3"/>
<text x="770" y="1293" style="font-size:5px;fill:#d89a2c">L</text>
<text x="770" y="1299" style="font-size:5px;fill:#d89a2c">I</text>
<text x="770" y="1305" style="font-size:5px;fill:#d89a2c">F</text>
<text x="770" y="1311" style="font-size:5px;fill:#d89a2c">T</text>

<!-- prplnt qty mon -->
<text x="567.7" y="1312" class="L">PRPLNT QTY MON</text>
<text x="547.5" y="1321" class="S">DES 1</text>
<use href="#nut" x="548" y="1342.8"/><use href="#pup" x="548" y="1342.8"/>
<text x="568" y="1346" class="S" style="text-anchor:start">DES 2</text>
<text x="548" y="1371.5" class="S">OFF</text>
<rect x="577.6" y="1322.6" width="44.4" height="7" fill="#3a3a3c"/>
<text x="599.8" y="1328.8" class="bx">1185/1320</text>

<!-- helium mon -->
<text x="689.7" y="1313.5" class="L">HELIUM MON</text>
<path d="M590,1321 H626 M645,1321 H676 Q680,1321 680,1326 M686,1326 Q686,1321 690,1321 H724 M744,1321 H770 Q774,1321 774,1325 V1352" fill="none" stroke="#222" stroke-width="1.4"/>
<text x="636" y="1325" class="L">DES</text>
<text x="734" y="1325" class="L">ASC</text>
<text x="669" y="1336" class="S" style="text-anchor:end">SUPCRIT PRESS</text>
<text x="647.7" y="1347" class="S" style="text-anchor:end">AMB</text>
<text x="647.7" y="1353.5" class="S" style="text-anchor:end">PRESS</text>
<rect x="588.4" y="1355" width="39.2" height="7" fill="#3a3a3c"/>
<text x="608" y="1361" class="bx">200/1110</text>
<text x="635" y="1369" class="S" style="text-anchor:end">OFF</text>
<text x="732.3" y="1369" class="S" style="text-anchor:start">PRESS 1</text>
<rect x="732" y="1372.8" width="46.6" height="7" fill="#3a3a3c"/>
<text x="755.3" y="1379" class="bx">2700/3450</text>
<text x="732.3" y="1394" class="S" style="text-anchor:start">PRESS 2</text>
<circle cx="684.5" cy="1379" r="42.5" fill="#ababad" stroke="#222" stroke-width="1.8"/>
<polygon points="669,1340.7 676.5,1338 702.8,1375.6 705.3,1413.8 682.7,1420.3 666.5,1385.4" fill="#99999b" stroke="#222" stroke-width="1.3"/>
<polygon points="670.5,1346 675,1345 679.5,1368 675,1369" fill="#c8c8c8" stroke="#222" stroke-width="0.8"/>
<circle cx="684" cy="1379" r="4.5" fill="#ccc" stroke="#222" stroke-width="1.2"/>

<!-- prplnt temp/press mon -->
<text x="581.4" y="1404.5" class="L">PRPLNT</text>
<text x="581.4" y="1414.5" class="L">TEMP/PRESS MON</text>
<text x="589" y="1423.5" class="S" style="text-anchor:end">ASC</text>
<rect x="595.6" y="1417" width="35.9" height="7" fill="#3a3a3c"/>
<text x="613.5" y="1423" class="bx">172/203</text>
<use href="#nut" x="581.4" y="1445.4"/><use href="#pdn" x="581.4" y="1445.4"/>
<text x="601" y="1450" class="S" style="text-anchor:start">DES 1</text>
<text x="581.4" y="1474.5" class="S">DES 2</text>
<rect x="597.6" y="1468.3" width="36.4" height="7" fill="#3a3a3c"/>
<text x="615.8" y="1474.3" class="bx">200/250</text>

<!-- panel tab -->
<path d="M0,1529.5 H77.5 Q90.5,1529.5 90.5,1542.5 V1568 H0 Z" fill="#a3a3a5"/>
<text x="10" y="1557" style="font-size:19px;fill:#6b6b6d;text-anchor:start">Panel 1</text>
</svg>
</body></html>
